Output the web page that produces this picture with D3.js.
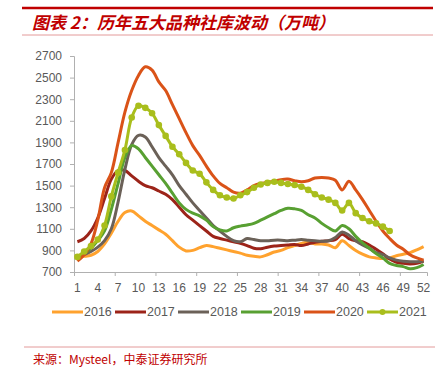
<!DOCTYPE html>
<html>
<head>
<meta charset="utf-8">
<title>历年五大品种社库波动</title>
<script src="https://d3js.org/d3.v7.min.js"></script>
<style>
  body { margin: 0; background: #fff; }
  svg text { font-family: "Liberation Sans", Arial, sans-serif; }
  .cjk { font-family: "Noto Sans CJK SC", sans-serif; }
</style>
</head>
<body>
<div id="chart"></div>
<script>
// weeks 1..52
const weeks = d3.range(1, 53)
const years = ["2016", "2017", "2018", "2019", "2020", "2021"]
const xLabels = [1, 4, 7, 10, 13, 16, 19, 22, 25, 28, 31, 34, 37, 40, 43, 46, 49, 52]
const yTicks = [700, 900, 1100, 1300, 1500, 1700, 1900, 2100, 2300, 2500, 2700]

const s2016 = [840, 845, 855, 890, 960, 1060, 1170, 1250, 1265, 1220, 1170, 1130, 1090, 1050, 990, 930, 895, 900, 925, 945, 935, 920, 905, 890, 875, 855, 845, 840, 860, 885, 900, 925, 945, 965, 975, 960, 960, 950, 925, 990, 945, 900, 865, 840, 830, 825, 830, 850, 865, 880, 905, 935]
const s2017 = [980, 1010, 1080, 1200, 1380, 1560, 1640, 1640, 1590, 1540, 1500, 1480, 1450, 1420, 1370, 1300, 1230, 1180, 1130, 1080, 1030, 1010, 995, 980, 965, 945, 920, 915, 930, 940, 945, 950, 955, 945, 960, 975, 985, 990, 1000, 1050, 1010, 990, 980, 950, 910, 870, 820, 790, 780, 775, 780, 800]
const s2018 = [840, 860, 890, 930, 990, 1100, 1350, 1650, 1880, 1965, 1950, 1860, 1760, 1680, 1600, 1500, 1420, 1340, 1270, 1200, 1130, 1080, 1030, 990, 980, 1010, 1000, 990, 990, 995, 995, 990, 995, 1000, 995, 990, 985, 990, 1020, 1070, 1040, 990, 950, 920, 880, 860, 830, 810, 800, 795, 795, 800]
const s2019 = [840, 870, 920, 990, 1080, 1280, 1520, 1760, 1870, 1840, 1760, 1680, 1600, 1520, 1430, 1340, 1280, 1245, 1220, 1180, 1120, 1090, 1080, 1110, 1125, 1135, 1150, 1180, 1210, 1240, 1270, 1290, 1285, 1270, 1230, 1200, 1150, 1110, 1080, 1130, 1100, 1030, 970, 920, 870, 830, 780, 760, 750, 730, 740, 770]
const s2020 = [800, 860, 960, 1180, 1480, 1620, 1900, 2180, 2380, 2520, 2600, 2570, 2460, 2380, 2250, 2120, 1990, 1870, 1780, 1680, 1590, 1520, 1480, 1440, 1430, 1460, 1500, 1520, 1530, 1540, 1555, 1560, 1545, 1535, 1545, 1570, 1575, 1570, 1550, 1460, 1540, 1460, 1370, 1270, 1170, 1080, 1010, 950, 910, 860, 830, 810]
const s2021 = [840, 890, 940, 1000, 1130, 1400, 1620, 1830, 2130, 2240, 2220, 2170, 2060, 1960, 1860, 1790, 1710, 1640, 1610, 1530, 1460, 1410, 1390, 1380, 1410, 1440, 1480, 1510, 1525, 1535, 1525, 1515, 1505, 1490, 1460, 1420, 1390, 1370, 1340, 1270, 1340, 1245, 1200, 1170, 1150, 1120, 1080]

const seriesValues = [s2016, s2017, s2018, s2019, s2020, s2021]
const colors = ["#FFA22E", "#9C2419", "#6B6158", "#58A032", "#DA5318", "#A9BE1C"]

const w = 441, h = 373
const margin = { top: 56, right: 14, bottom: 101, left: 74 }
const red = "#C00000"

const svg = d3.select("#chart").append("svg")
    .attr("width", w)
    .attr("height", h)

// header / footer rules
svg.append("line").attr("x1", 22).attr("x2", 433).attr("y1", 8).attr("y2", 8)
    .attr("stroke", red).attr("stroke-width", 2.5)
svg.append("line").attr("x1", 22).attr("x2", 433).attr("y1", 35).attr("y2", 35)
    .attr("stroke", "#E39A9A").attr("stroke-width", 1)
svg.append("line").attr("x1", 24).attr("x2", 435).attr("y1", 347).attr("y2", 347)
    .attr("stroke", "#E39A9A").attr("stroke-width", 1)

svg.append("text")
    .attr("class", "cjk")
    .attr("x", 32).attr("y", 29)
    .attr("fill", red)
    .style("font-size", "17px")
    .style("font-style", "italic")
    .style("font-weight", "bold")
    .text("图表 2：历年五大品种社库波动（万吨）")

svg.append("text")
    .attr("class", "cjk")
    .attr("x", 33).attr("y", 364)
    .attr("fill", red)
    .style("font-size", "12px")
    .text("来源：Mysteel，中泰证券研究所")

const x = d3.scaleBand()
    .domain(weeks)
    .range([margin.left, w - margin.right])

const xb = d3.scaleLinear()
    .domain([0, 52])
    .range([margin.left, w - margin.right])

const y = d3.scaleLinear()
    .domain([700, 2700])
    .range([h - margin.bottom, margin.top])

const cx = d => x(d) + x.bandwidth() / 2

// axes
const yAxis = svg.append("g")
    .attr("transform", "translate(" + margin.left + ",0)")
    .call(d3.axisLeft(y).tickValues(yTicks).tickSize(4).tickPadding(8).tickFormat(d3.format("d")))

const xTicks = svg.append("g")
    .attr("transform", "translate(0," + (h - margin.bottom) + ")")
    .call(d3.axisBottom(xb).tickValues(d3.range(0, 49, 6)).tickSize(4).tickFormat(""))

const xAxis = svg.append("g")
    .attr("transform", "translate(0," + (h - margin.bottom) + ")")
    .call(d3.axisBottom(x).tickValues(xLabels).tickSize(0).tickPadding(11))

xAxis.select(".domain").remove()
svg.selectAll(".domain").attr("stroke", "#B0B0B0")
svg.selectAll(".tick line").attr("stroke", "#B0B0B0")
svg.selectAll(".tick text").attr("fill", "#595959").style("font-size", "12px")

// lines
const line = d3.line()
    .x((d, i) => cx(weeks[i]))
    .y(d => y(d))
    .curve(d3.curveCatmullRom.alpha(0.5))

seriesValues.forEach((vals, k) => {
    svg.append("path")
        .datum(vals)
        .attr("d", line)
        .attr("fill", "none")
        .attr("stroke", colors[k])
        .attr("stroke-width", 3)
        .attr("stroke-linejoin", "round")
})

svg.selectAll(".m21")
    .data(s2021)
    .enter()
    .append("circle")
    .attr("class", "m21")
    .attr("cx", (d, i) => cx(weeks[i]))
    .attr("cy", d => y(d))
    .attr("r", 3.3)
    .attr("fill", colors[5])

// legend
const legendX = [52, 115, 178, 241, 304, 367]
const leg = svg.append("g").attr("transform", "translate(0,312)")
years.forEach((yr, k) => {
    leg.append("line")
        .attr("x1", legendX[k]).attr("x2", legendX[k] + 31)
        .attr("y1", 0).attr("y2", 0)
        .attr("stroke", colors[k]).attr("stroke-width", 3)
    if (k === 5) {
        leg.append("circle").attr("cx", legendX[k] + 15.5).attr("cy", 0).attr("r", 3).attr("fill", colors[k])
    }
    leg.append("text")
        .attr("x", legendX[k] + 32).attr("y", 4.3)
        .attr("fill", "#595959")
        .style("font-size", "12.5px")
        .text(yr)
})
</script>
</body>
</html>
